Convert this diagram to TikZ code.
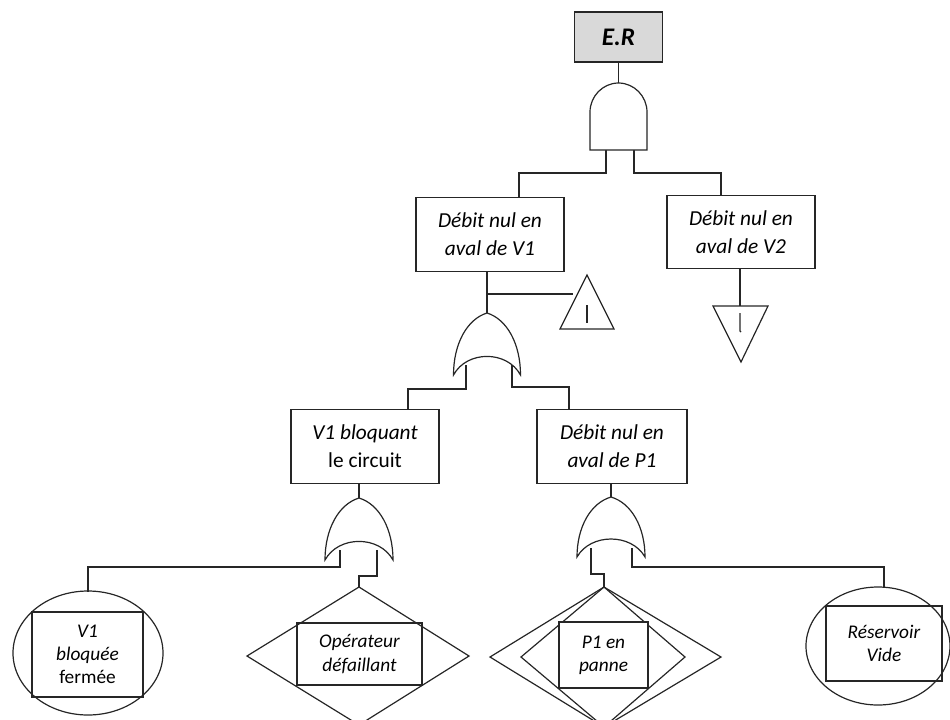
\documentclass[tikz,border=0pt]{standalone}
\usepackage{fontspec}
\setmainfont{Carlito}
\usetikzlibrary{shapes.geometric}

\tikzset{
  ln/.style={line width=0.9pt, draw=black!85},
  evbox/.style={ln, rectangle, align=center, inner sep=0pt,
    minimum width=111pt, minimum height=55pt,
    font=\fontsize{16}{21}\selectfont},
  basebox/.style={ln, rectangle, align=center, inner sep=0pt,
    font=\fontsize{14.5}{17.5}\selectfont},
  gate/.style={ln, fill=white},
}

% OR gate: apex (#1,#2), half width #3, height #4
\newcommand{\orgate}[4]{%
  \draw[gate] (#1,#2)
    .. controls ({#1-0.6*#3},{#2+0.1*#4}) and ({#1-#3},{#2+0.5*#4}) .. ({#1-#3},{#2+#4})
    .. controls ({#1-0.6*#3},{#2+0.6*#4}) and ({#1+0.6*#3},{#2+0.6*#4}) .. ({#1+#3},{#2+#4})
    .. controls ({#1+#3},{#2+0.5*#4}) and ({#1+0.6*#3},{#2+0.1*#4}) .. (#1,#2) -- cycle;}

\begin{document}
\begin{tikzpicture}[x=0.75pt, y=-0.75pt]
\useasboundingbox (0,0) rectangle (950,719);
\clip (0,0) rectangle (950,719);

% ---------- top event and first-level events ----------
\node[ln, rectangle, fill=black!15, minimum width=66pt, minimum height=37.5pt,
      inner sep=0pt, font=\fontsize{19}{23}\selectfont\bfseries\itshape]
      (er) at (618.5,37) {E.R};

\node[evbox] (v1) at (490,234.5) {\textit{Débit nul en}\\\textit{aval de V1}};
\node[evbox] (v2) at (741,232) {\textit{Débit nul en}\\\textit{aval de V2}};
\node[evbox] (vb) at (365,446.5) {\textit{V1 bloquant}\\le circuit};
\node[evbox, minimum width=112.5pt] (p1) at (612,446.5) {\textit{Débit nul en}\\\textit{aval de P1}};

% ---------- basic events ----------
\node[ln, ellipse, minimum width=112.5pt, minimum height=93pt, inner sep=0pt] (e1) at (88,653) {};
\node[basebox, minimum width=83.25pt, minimum height=63.75pt] (r1) at (87.5,654.5)
  {\textit{V1}\\\textit{bloquée}\\fermée};

\draw[ln] (359,587) coordinate (d1top) -- (469,656) -- (359,725) -- (247,656) -- cycle;
\node[basebox, minimum width=93.75pt, minimum height=46.5pt] (r2) at (359.5,654)
  {\textit{Opérateur}\\\textit{défaillant}};

\draw[ln] (604,587) coordinate (d2top) -- (721,657) -- (604,727) -- (490,657) -- cycle;
\draw[ln] (604,587) -- (685,657) -- (604,727) -- (521,657) -- cycle;
\node[basebox, fill=white, minimum width=66.75pt, minimum height=49.5pt] (r3) at (603.5,655)
  {\textit{P1 en}\\\textit{panne}};

\node[ln, ellipse, minimum width=108pt, minimum height=88.5pt, inner sep=0pt] (e2) at (878,646) {};
\node[basebox, minimum width=87pt, minimum height=56.25pt] (r4) at (884,643.5)
  {\textit{Réservoir}\\\textit{Vide}};

% ---------- gate ports and connection points ----------
\coordinate (andtop) at (618.5,83);
\coordinate (andL) at (606,150);
\coordinate (andR) at (634,150);
\coordinate (or1top) at (487,313);
\coordinate (or1L) at (466,365);
\coordinate (or1R) at (512,365);
\coordinate (or2top) at (359,498);
\coordinate (or2L) at (340,550);
\coordinate (or2R) at (377,550);
\coordinate (or3top) at (611,497);
\coordinate (or3L) at (591,548);
\coordinate (or3R) at (632,548);
\coordinate (v1in) at (519,198);
\coordinate (v2in) at (721,195);
\coordinate (v1out) at (487,271);
\coordinate (v2out) at (740,269);
\coordinate (vbin) at (408,410);
\coordinate (p1in) at (569,410);
\coordinate (e1in) at (88,592);
\coordinate (e2in) at (884,588);

% transfer triangles
\draw[ln] (587,275) coordinate (t1apex) -- (614,329) -- (560,329) -- cycle;
\draw[ln] (587,305) -- (587,323);
\draw[ln] (713,306) coordinate (t2top) -- (768,306) -- (741,362) -- cycle;
\draw[ln] (740,313) -- (740,331) -- (741,332);

% ---------- connectors ----------
\draw[ln] (er.south) -- (andtop);
\draw[ln] (andL) |- (519,173) -- (v1in);
\draw[ln] (andR) |- (721,173) -- (v2in);
\draw[ln] (v1out) -- (or1top);
\draw[ln] (487,294) -- (573,294);
\draw[ln] (v2out) -- (740,306);
\draw[ln] (or1L) |- (408,389) -- (vbin);
\draw[ln] (or1R) |- (569,387) -- (p1in);
\draw[ln] (vb.south -| or2top) -- (or2top);
\draw[ln] (p1.south -| or3top) -- (or3top);
\draw[ln] (or2L) |- (88,567) -- (e1in);
\draw[ln] (or2R) |- (359,576) -- (d1top);
\draw[ln] (or3L) |- (604,574) -- (d2top);
\draw[ln] (or3R) |- (884,567) -- (e2in);

% ---------- gates ----------
\draw[gate] (590,150) -- (590,112)
  .. controls (590,96.3) and (602.8,83) .. (andtop)
  .. controls (634.2,83) and (647,96.3) .. (647,112) -- (647,150) -- cycle;
\orgate{487}{313}{33.5}{62}
\orgate{359}{498}{34}{62}
\orgate{611}{497}{34}{60}
\end{tikzpicture}
\end{document}
